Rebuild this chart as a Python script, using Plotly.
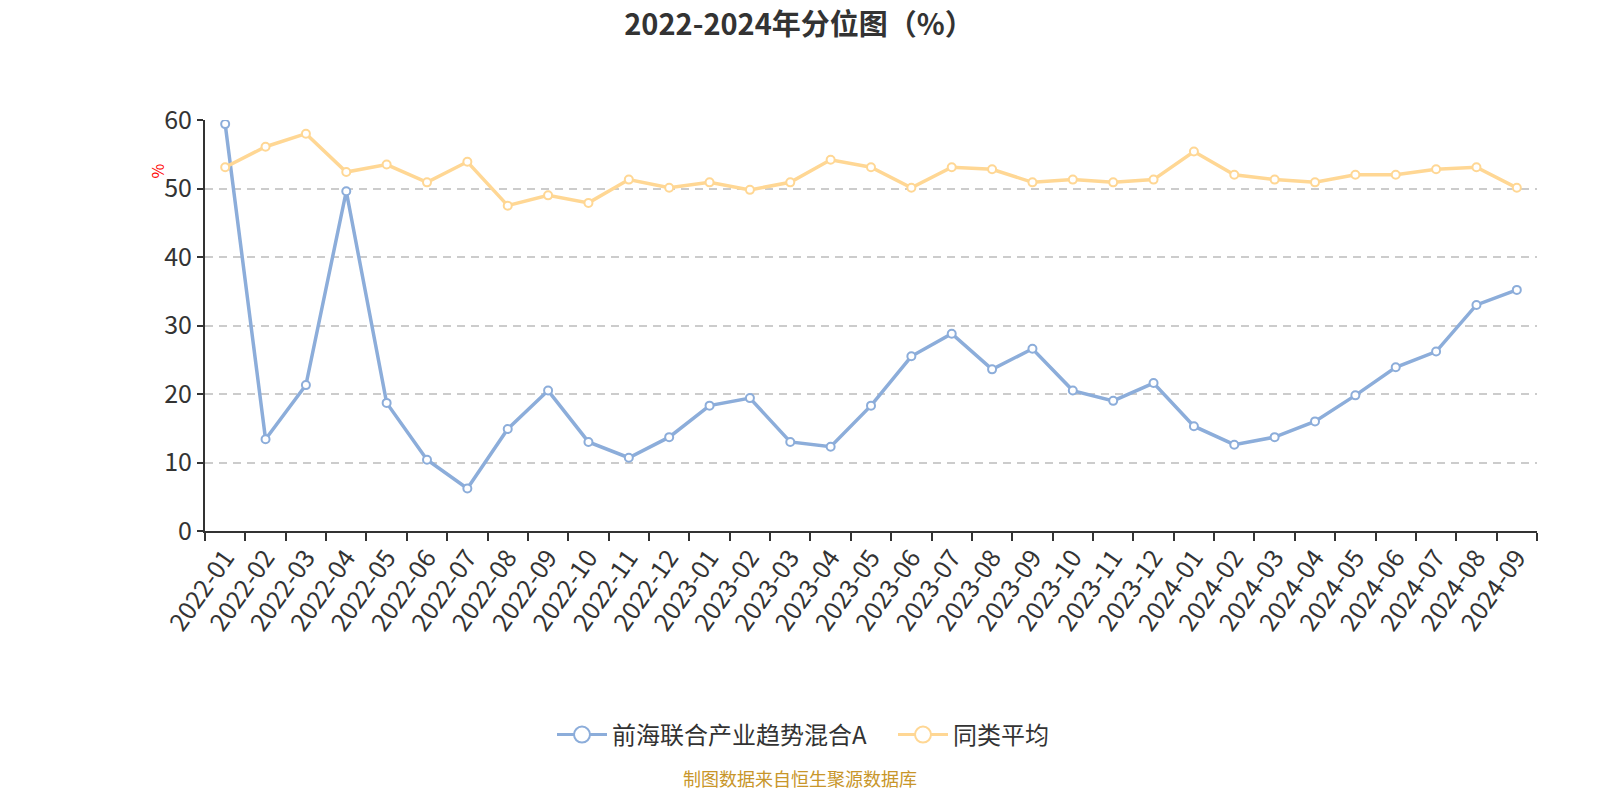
import plotly.graph_objects as go

months = [
    '2022-01', '2022-02', '2022-03', '2022-04', '2022-05', '2022-06',
    '2022-07', '2022-08', '2022-09', '2022-10', '2022-11', '2022-12',
    '2023-01', '2023-02', '2023-03', '2023-04', '2023-05', '2023-06',
    '2023-07', '2023-08', '2023-09', '2023-10', '2023-11', '2023-12',
    '2024-01', '2024-02', '2024-03', '2024-04', '2024-05', '2024-06',
    '2024-07', '2024-08', '2024-09',
]

fund = [
    59.4, 13.4, 21.3, 49.6, 18.7, 10.4, 6.2, 14.9, 20.5, 13.0, 10.7,
    13.7, 18.3, 19.4, 13.0, 12.3, 18.3, 25.5, 28.8, 23.6, 26.6, 20.5,
    19.0, 21.6, 15.3, 12.6, 13.7, 16.0, 19.8, 23.9, 26.2, 33.0, 35.2,
]

peer_avg = [
    53.1, 56.1, 58.0, 52.4, 53.5, 50.9, 53.9, 47.5, 49.0, 47.9, 51.3,
    50.1, 50.9, 49.8, 50.9, 54.2, 53.1, 50.1, 53.1, 52.8, 50.9, 51.3,
    50.9, 51.3, 55.4, 52.0, 51.3, 50.9, 52.0, 52.0, 52.8, 53.1, 50.1,
]

FONT = 'Noto Sans CJK SC'
BLUE = '#8cadda'
ORANGE = '#ffd794'

# page body adds an 8px margin, so the figure is a bit smaller than the window
W, H = 1584, 784
L, T, R, B = 197, 112, 55, 261
PW, PH = W - L - R, H - T - B

fig = go.Figure()

for name, values, color in [
    ('前海联合产业趋势混合A', fund, BLUE),
    ('同类平均', peer_avg, ORANGE),
]:
    fig.add_trace(go.Scatter(
        x=months,
        y=values,
        name=name,
        mode='lines+markers',
        line={'color': color, 'width': 3.5},
        marker={'size': 8, 'color': 'white',
                'line': {'color': color, 'width': 2}},
        showlegend=False,
    ))
    # legend-only entry with a bigger hollow circle, like the original
    fig.add_trace(go.Scatter(
        x=[None],
        y=[None],
        name=name,
        mode='lines+markers',
        line={'color': color, 'width': 3},
        marker={'size': 16, 'color': 'white',
                'line': {'color': color, 'width': 2}},
        hoverinfo='skip',
    ))

fig.update_layout(
    width=W,
    height=H,
    paper_bgcolor='white',
    plot_bgcolor='white',
    margin={'l': L, 'r': R, 't': T, 'b': B},
    font={'family': FONT, 'color': '#333'},
    title={
        'text': '<b>2022-2024年分位图（%）</b>',
        'font': {'size': 29, 'color': '#333', 'family': FONT},
        'x': 791 / W, 'xanchor': 'center',
        'y': 1 - 17 / H, 'yanchor': 'middle',
    },
    showlegend=True,
    legend={
        'orientation': 'h',
        'xref': 'container', 'yref': 'container',
        'x': 544 / W, 'xanchor': 'left',
        'y': 1 - 727 / H, 'yanchor': 'middle',
        'font': {'size': 24, 'color': '#333'},
        'itemwidth': 50,
        'entrywidth': 276,
    },
)

fig.update_xaxes(
    type='category',
    range=[-0.5, len(months) - 0.5],
    tickangle=-55,
    tickfont={'size': 25, 'color': '#333'},
    showline=True,
    linecolor='#333',
    linewidth=2,
    ticks='outside',
    tickson='boundaries',
    ticklen=8,
    tickwidth=2,
    tickcolor='#333',
    showgrid=False,
    zeroline=False,
)

fig.update_yaxes(
    range=[0, 60],
    dtick=10,
    tickfont={'size': 25, 'color': '#333'},
    showline=True,
    linecolor='#333',
    linewidth=2,
    ticks='outside',
    ticklen=6,
    tickwidth=2,
    tickcolor='#333',
    showgrid=True,
    gridcolor='#cccccc',
    griddash='8px,6px',
    gridwidth=1.5,
    zeroline=False,
)

fig.add_annotation(
    text='%',
    textangle=-90,
    xref='paper', yref='paper',
    x=(134 - L) / PW, y=(T + PH - 154) / PH,
    showarrow=False,
    font={'size': 16, 'color': 'red', 'family': FONT},
)

fig.add_annotation(
    text='制图数据来自恒生聚源数据库',
    xref='paper', yref='paper',
    x=(792 - L) / PW, y=(T + PH - H) / PH,
    yanchor='bottom',
    borderpad=0,
    showarrow=False,
    font={'size': 18, 'color': '#c8962a', 'family': FONT},
)

fig.write_html('out.html')
